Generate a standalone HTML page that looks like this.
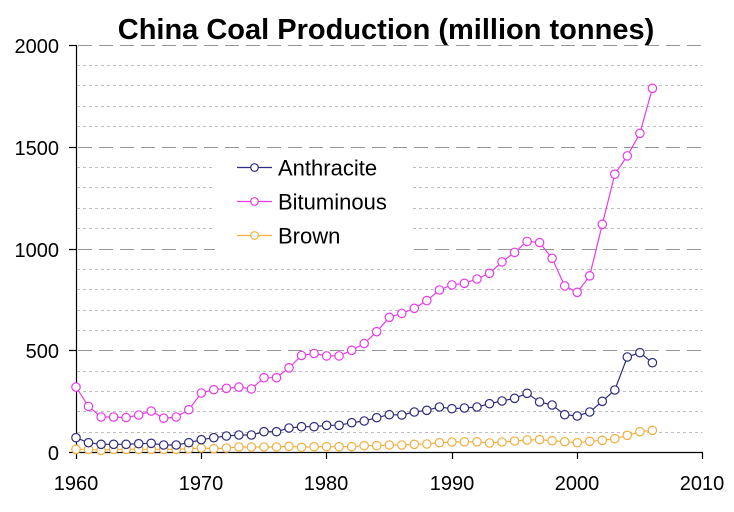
<!DOCTYPE html>
<html>
<head>
<meta charset="utf-8">
<style>
html,body{margin:0;padding:0;background:#fff;}
svg{display:block;}
text{font-family:"Liberation Sans",Arial,sans-serif;fill:#000;}
</style>
</head>
<body>
<svg width="734" height="512" viewBox="0 0 734 512" xmlns="http://www.w3.org/2000/svg">
<rect x="0" y="0" width="734" height="512" fill="#fff"/>
<!-- minor gridlines -->
<g stroke="#bdbdbd" stroke-width="1" stroke-dasharray="3 3" fill="none">
<line x1="77" y1="65.5" x2="702.5" y2="65.5"/>
<line x1="77" y1="85.5" x2="702.5" y2="85.5"/>
<line x1="77" y1="106.5" x2="702.5" y2="106.5"/>
<line x1="77" y1="126.5" x2="702.5" y2="126.5"/>
<line x1="77" y1="167.5" x2="702.5" y2="167.5"/>
<line x1="77" y1="187.5" x2="702.5" y2="187.5"/>
<line x1="77" y1="208.5" x2="702.5" y2="208.5"/>
<line x1="77" y1="228.5" x2="702.5" y2="228.5"/>
<line x1="77" y1="269.5" x2="702.5" y2="269.5"/>
<line x1="77" y1="289.5" x2="702.5" y2="289.5"/>
<line x1="77" y1="310.5" x2="702.5" y2="310.5"/>
<line x1="77" y1="330.5" x2="702.5" y2="330.5"/>
<line x1="77" y1="371.5" x2="702.5" y2="371.5"/>
<line x1="77" y1="391.5" x2="702.5" y2="391.5"/>
<line x1="77" y1="411.5" x2="702.5" y2="411.5"/>
<line x1="77" y1="432.5" x2="702.5" y2="432.5"/>
</g>
<!-- major gridlines -->
<g stroke="#959595" stroke-width="1" stroke-dasharray="14 7" fill="none">
<line x1="78" y1="45.5" x2="702.5" y2="45.5"/>
<line x1="78" y1="147.5" x2="702.5" y2="147.5"/>
<line x1="78" y1="249.5" x2="702.5" y2="249.5"/>
<line x1="78" y1="350.5" x2="702.5" y2="350.5"/>
</g>
<!-- legend background -->
<rect x="215" y="151" width="196" height="103" fill="#fff"/>
<!-- axes -->
<g stroke="#000" stroke-width="1.2" fill="none">
<line x1="76.5" y1="45" x2="76.5" y2="452.5"/>
<line x1="76" y1="452.5" x2="703" y2="452.5"/>
<line x1="69" y1="45.5" x2="76" y2="45.5"/>
<line x1="69" y1="147.5" x2="76" y2="147.5"/>
<line x1="69" y1="249.5" x2="76" y2="249.5"/>
<line x1="69" y1="350.5" x2="76" y2="350.5"/>
<line x1="69" y1="452.5" x2="76" y2="452.5"/>
<line x1="76.5" y1="452" x2="76.5" y2="459"/>
<line x1="201.5" y1="452" x2="201.5" y2="459"/>
<line x1="326.5" y1="452" x2="326.5" y2="459"/>
<line x1="452.5" y1="452" x2="452.5" y2="459"/>
<line x1="577.5" y1="452" x2="577.5" y2="459"/>
<line x1="702.5" y1="452" x2="702.5" y2="459"/>
</g>
<!-- y labels -->
<g font-size="20" text-anchor="end">
<text x="59" y="53">2000</text>
<text x="59" y="155">1500</text>
<text x="59" y="257">1000</text>
<text x="59" y="358">500</text>
<text x="59" y="460">0</text>
</g>
<!-- x labels -->
<g font-size="20" text-anchor="middle">
<text x="76" y="490">1960</text>
<text x="201" y="490">1970</text>
<text x="326" y="490">1980</text>
<text x="452" y="490">1990</text>
<text x="577" y="490">2000</text>
<text x="702" y="490">2010</text>
</g>
<!-- title -->
<text x="386" y="39" font-size="29" font-weight="bold" text-anchor="middle">China Coal Production (million tonnes)</text>

<!-- Brown -->
<g stroke="#f0b040" stroke-width="1.2" fill="#fff">
<polyline fill="none" points="76.0,449.3 88.5,449.3 101.1,450.3 113.6,449.3 126.1,449.3 138.7,449.3 151.2,449.3 163.7,449.3 176.2,449.3 188.8,448.7 201.3,448.0 213.8,448.7 226.4,448.0 238.9,447.0 251.4,447.0 264.0,447.0 276.5,447.0 289.0,446.3 301.5,447.3 314.1,446.7 326.6,446.7 339.1,446.7 351.7,446.7 364.2,445.7 376.7,445.7 389.3,445.0 401.8,445.0 414.3,444.3 426.8,444.0 439.4,442.7 451.9,442.0 464.4,441.8 477.0,441.8 489.5,443.0 502.0,442.0 514.6,441.0 527.1,440.0 539.6,439.7 552.1,440.7 564.7,441.7 577.2,442.7 589.7,441.3 602.3,440.3 614.8,438.7 627.3,435.3 639.9,431.7 652.4,430.3"/>
<circle cx="76.0" cy="449.3" r="4.2"/><circle cx="88.5" cy="449.3" r="4.2"/><circle cx="101.1" cy="450.3" r="4.2"/><circle cx="113.6" cy="449.3" r="4.2"/><circle cx="126.1" cy="449.3" r="4.2"/><circle cx="138.7" cy="449.3" r="4.2"/><circle cx="151.2" cy="449.3" r="4.2"/><circle cx="163.7" cy="449.3" r="4.2"/><circle cx="176.2" cy="449.3" r="4.2"/><circle cx="188.8" cy="448.7" r="4.2"/><circle cx="201.3" cy="448.0" r="4.2"/><circle cx="213.8" cy="448.7" r="4.2"/><circle cx="226.4" cy="448.0" r="4.2"/><circle cx="238.9" cy="447.0" r="4.2"/><circle cx="251.4" cy="447.0" r="4.2"/><circle cx="264.0" cy="447.0" r="4.2"/><circle cx="276.5" cy="447.0" r="4.2"/><circle cx="289.0" cy="446.3" r="4.2"/><circle cx="301.5" cy="447.3" r="4.2"/><circle cx="314.1" cy="446.7" r="4.2"/><circle cx="326.6" cy="446.7" r="4.2"/><circle cx="339.1" cy="446.7" r="4.2"/><circle cx="351.7" cy="446.7" r="4.2"/><circle cx="364.2" cy="445.7" r="4.2"/><circle cx="376.7" cy="445.7" r="4.2"/><circle cx="389.3" cy="445.0" r="4.2"/><circle cx="401.8" cy="445.0" r="4.2"/><circle cx="414.3" cy="444.3" r="4.2"/><circle cx="426.8" cy="444.0" r="4.2"/><circle cx="439.4" cy="442.7" r="4.2"/><circle cx="451.9" cy="442.0" r="4.2"/><circle cx="464.4" cy="441.8" r="4.2"/><circle cx="477.0" cy="441.8" r="4.2"/><circle cx="489.5" cy="443.0" r="4.2"/><circle cx="502.0" cy="442.0" r="4.2"/><circle cx="514.6" cy="441.0" r="4.2"/><circle cx="527.1" cy="440.0" r="4.2"/><circle cx="539.6" cy="439.7" r="4.2"/><circle cx="552.1" cy="440.7" r="4.2"/><circle cx="564.7" cy="441.7" r="4.2"/><circle cx="577.2" cy="442.7" r="4.2"/><circle cx="589.7" cy="441.3" r="4.2"/><circle cx="602.3" cy="440.3" r="4.2"/><circle cx="614.8" cy="438.7" r="4.2"/><circle cx="627.3" cy="435.3" r="4.2"/><circle cx="639.9" cy="431.7" r="4.2"/><circle cx="652.4" cy="430.3" r="4.2"/>
</g>

<!-- Anthracite -->
<g stroke="#2e2e7e" stroke-width="1.2" fill="#fff">
<polyline fill="none" points="76.0,437.7 88.5,442.7 101.1,444.3 113.6,444.3 126.1,444.3 138.7,443.7 151.2,443.3 163.7,445.0 176.2,445.0 188.8,442.7 201.3,439.7 213.8,437.7 226.4,436.0 238.9,435.0 251.4,435.0 264.0,431.7 276.5,431.7 289.0,428.0 301.5,426.7 314.1,426.7 326.6,425.3 339.1,425.3 351.7,422.7 364.2,421.0 376.7,417.7 389.3,414.7 401.8,415.0 414.3,412.0 426.8,410.3 439.4,407.0 451.9,408.7 464.4,408.0 477.0,407.0 489.5,403.7 502.0,401.0 514.6,398.3 527.1,393.3 539.6,402.0 552.1,405.0 564.7,414.7 577.2,416.0 589.7,412.0 602.3,401.3 614.8,390.0 627.3,357.0 639.9,352.7 652.4,362.7"/>
<circle cx="76.0" cy="437.7" r="4.2"/><circle cx="88.5" cy="442.7" r="4.2"/><circle cx="101.1" cy="444.3" r="4.2"/><circle cx="113.6" cy="444.3" r="4.2"/><circle cx="126.1" cy="444.3" r="4.2"/><circle cx="138.7" cy="443.7" r="4.2"/><circle cx="151.2" cy="443.3" r="4.2"/><circle cx="163.7" cy="445.0" r="4.2"/><circle cx="176.2" cy="445.0" r="4.2"/><circle cx="188.8" cy="442.7" r="4.2"/><circle cx="201.3" cy="439.7" r="4.2"/><circle cx="213.8" cy="437.7" r="4.2"/><circle cx="226.4" cy="436.0" r="4.2"/><circle cx="238.9" cy="435.0" r="4.2"/><circle cx="251.4" cy="435.0" r="4.2"/><circle cx="264.0" cy="431.7" r="4.2"/><circle cx="276.5" cy="431.7" r="4.2"/><circle cx="289.0" cy="428.0" r="4.2"/><circle cx="301.5" cy="426.7" r="4.2"/><circle cx="314.1" cy="426.7" r="4.2"/><circle cx="326.6" cy="425.3" r="4.2"/><circle cx="339.1" cy="425.3" r="4.2"/><circle cx="351.7" cy="422.7" r="4.2"/><circle cx="364.2" cy="421.0" r="4.2"/><circle cx="376.7" cy="417.7" r="4.2"/><circle cx="389.3" cy="414.7" r="4.2"/><circle cx="401.8" cy="415.0" r="4.2"/><circle cx="414.3" cy="412.0" r="4.2"/><circle cx="426.8" cy="410.3" r="4.2"/><circle cx="439.4" cy="407.0" r="4.2"/><circle cx="451.9" cy="408.7" r="4.2"/><circle cx="464.4" cy="408.0" r="4.2"/><circle cx="477.0" cy="407.0" r="4.2"/><circle cx="489.5" cy="403.7" r="4.2"/><circle cx="502.0" cy="401.0" r="4.2"/><circle cx="514.6" cy="398.3" r="4.2"/><circle cx="527.1" cy="393.3" r="4.2"/><circle cx="539.6" cy="402.0" r="4.2"/><circle cx="552.1" cy="405.0" r="4.2"/><circle cx="564.7" cy="414.7" r="4.2"/><circle cx="577.2" cy="416.0" r="4.2"/><circle cx="589.7" cy="412.0" r="4.2"/><circle cx="602.3" cy="401.3" r="4.2"/><circle cx="614.8" cy="390.0" r="4.2"/><circle cx="627.3" cy="357.0" r="4.2"/><circle cx="639.9" cy="352.7" r="4.2"/><circle cx="652.4" cy="362.7" r="4.2"/>
</g>

<!-- Bituminous -->
<g stroke="#e83ce8" stroke-width="1.2" fill="#fff">
<polyline fill="none" points="76.0,387.1 88.5,406.4 101.1,417.0 113.6,417.0 126.1,417.6 138.7,415.0 151.2,411.1 163.7,418.2 176.2,417.0 188.8,409.7 201.3,393.0 213.8,389.7 226.4,388.3 238.9,387.1 251.4,388.9 264.0,377.7 276.5,377.7 289.0,367.8 301.5,355.5 314.1,353.5 326.6,355.9 339.1,355.9 351.7,350.3 364.2,343.5 376.7,331.7 389.3,317.3 401.8,313.4 414.3,308.3 426.8,300.6 439.4,290.0 451.9,284.9 464.4,283.3 477.0,279.0 489.5,273.3 502.0,261.9 514.6,252.4 527.1,241.4 539.6,242.6 552.1,258.3 564.7,285.9 577.2,292.3 589.7,275.8 602.3,224.3 614.8,174.2 627.3,155.9 639.9,133.3 652.4,88.3"/>
<circle cx="76.0" cy="387.1" r="4.2"/><circle cx="88.5" cy="406.4" r="4.2"/><circle cx="101.1" cy="417.0" r="4.2"/><circle cx="113.6" cy="417.0" r="4.2"/><circle cx="126.1" cy="417.6" r="4.2"/><circle cx="138.7" cy="415.0" r="4.2"/><circle cx="151.2" cy="411.1" r="4.2"/><circle cx="163.7" cy="418.2" r="4.2"/><circle cx="176.2" cy="417.0" r="4.2"/><circle cx="188.8" cy="409.7" r="4.2"/><circle cx="201.3" cy="393.0" r="4.2"/><circle cx="213.8" cy="389.7" r="4.2"/><circle cx="226.4" cy="388.3" r="4.2"/><circle cx="238.9" cy="387.1" r="4.2"/><circle cx="251.4" cy="388.9" r="4.2"/><circle cx="264.0" cy="377.7" r="4.2"/><circle cx="276.5" cy="377.7" r="4.2"/><circle cx="289.0" cy="367.8" r="4.2"/><circle cx="301.5" cy="355.5" r="4.2"/><circle cx="314.1" cy="353.5" r="4.2"/><circle cx="326.6" cy="355.9" r="4.2"/><circle cx="339.1" cy="355.9" r="4.2"/><circle cx="351.7" cy="350.3" r="4.2"/><circle cx="364.2" cy="343.5" r="4.2"/><circle cx="376.7" cy="331.7" r="4.2"/><circle cx="389.3" cy="317.3" r="4.2"/><circle cx="401.8" cy="313.4" r="4.2"/><circle cx="414.3" cy="308.3" r="4.2"/><circle cx="426.8" cy="300.6" r="4.2"/><circle cx="439.4" cy="290.0" r="4.2"/><circle cx="451.9" cy="284.9" r="4.2"/><circle cx="464.4" cy="283.3" r="4.2"/><circle cx="477.0" cy="279.0" r="4.2"/><circle cx="489.5" cy="273.3" r="4.2"/><circle cx="502.0" cy="261.9" r="4.2"/><circle cx="514.6" cy="252.4" r="4.2"/><circle cx="527.1" cy="241.4" r="4.2"/><circle cx="539.6" cy="242.6" r="4.2"/><circle cx="552.1" cy="258.3" r="4.2"/><circle cx="564.7" cy="285.9" r="4.2"/><circle cx="577.2" cy="292.3" r="4.2"/><circle cx="589.7" cy="275.8" r="4.2"/><circle cx="602.3" cy="224.3" r="4.2"/><circle cx="614.8" cy="174.2" r="4.2"/><circle cx="627.3" cy="155.9" r="4.2"/><circle cx="639.9" cy="133.3" r="4.2"/><circle cx="652.4" cy="88.3" r="4.2"/>
</g>

<!-- legend -->
<g stroke-width="1.2" fill="#fff">
<line x1="237" y1="167.5" x2="272" y2="167.5" stroke="#2e2e7e"/>
<circle cx="254.5" cy="167.5" r="3.8" stroke="#2e2e7e"/>
<line x1="237" y1="201.5" x2="272" y2="201.5" stroke="#e83ce8"/>
<circle cx="254.5" cy="201.5" r="3.8" stroke="#e83ce8"/>
<line x1="237" y1="235.5" x2="272" y2="235.5" stroke="#f0b040"/>
<circle cx="254.5" cy="235.5" r="3.8" stroke="#f0b040"/>
</g>
<g font-size="22">
<text x="278" y="175.5">Anthracite</text>
<text x="278" y="209.5">Bituminous</text>
<text x="278" y="243.5">Brown</text>
</g>
</svg>
</body>
</html>
